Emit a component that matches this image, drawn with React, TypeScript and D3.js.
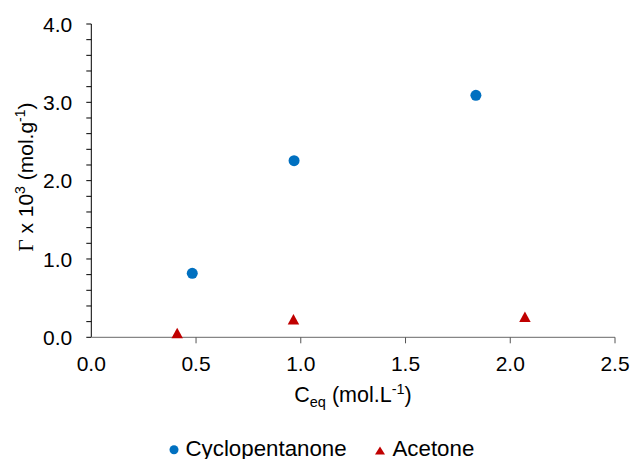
import React, { useEffect, useRef } from "react";
import * as d3 from "d3";

const WIDTH = 633;
const HEIGHT = 459;

// Adsorbed amount vs equilibrium concentration
const cyclopentanoneX = [0.482, 0.968, 1.836];
const cyclopentanoneY = [0.817, 2.255, 3.09];
const acetoneX = [0.41, 0.965, 2.07];
const acetoneY = [0.055, 0.23, 0.263];

const xTicks = [0, 0.5, 1.0, 1.5, 2.0, 2.5];
const yTicks = [0, 1.0, 2.0, 3.0, 4.0];
const yMinorTicks = d3.range(0, 4.0001, 0.2);

const BLUE = "#0070C0";
const RED = "#C00000";
const FONT = "'Liberation Sans', Arial, sans-serif";

// Triangle centred on its bounding box
const trianglePath = (w: number, h: number) =>
  `M0,${-h / 2}L${w / 2},${h / 2}L${-w / 2},${h / 2}Z`;

export default function App() {
  const ref = useRef<SVGSVGElement | null>(null);

  useEffect(() => {
    const svg = d3.select(ref.current);
    svg.selectAll("*").remove();

    const x = d3.scaleLinear().domain([0, 2.5]).range([91.3, 615]);
    const y = d3.scaleLinear().domain([0, 4]).range([337.3, 24]);

    // y axis
    const yAxis = svg.append("g").attr("transform", `translate(${x(0)},0)`);
    yAxis
      .append("line")
      .attr("y1", y(4))
      .attr("y2", y(0))
      .attr("stroke", "#000")
      .attr("stroke-width", 1);
    yAxis
      .selectAll("line.minor")
      .data(yMinorTicks)
      .join("line")
      .attr("class", "minor")
      .attr("x1", -5)
      .attr("x2", 0)
      .attr("y1", (d) => y(d))
      .attr("y2", (d) => y(d))
      .attr("stroke", "#000")
      .attr("stroke-width", 1);
    yAxis
      .selectAll("text")
      .data(yTicks)
      .join("text")
      .attr("x", -19)
      .attr("y", (d) => y(d))
      .attr("dy", "0.36em")
      .attr("text-anchor", "end")
      .attr("font-family", FONT)
      .attr("font-size", 21)
      .attr("fill", "#000")
      .text((d) => d3.format(".1f")(d));

    // x axis
    const xAxis = svg.append("g").attr("transform", `translate(0,${y(0)})`);
    xAxis
      .append("line")
      .attr("x1", x(0))
      .attr("x2", x(2.5))
      .attr("stroke", "#868686")
      .attr("stroke-width", 1.3);
    xAxis
      .selectAll("line.tick")
      .data(xTicks.slice(1))
      .join("line")
      .attr("class", "tick")
      .attr("x1", (d) => x(d))
      .attr("x2", (d) => x(d))
      .attr("y1", 0)
      .attr("y2", 6)
      .attr("stroke", "#555")
      .attr("stroke-width", 1);
    xAxis
      .selectAll("text")
      .data(xTicks)
      .join("text")
      .attr("x", (d) => x(d))
      .attr("y", 34)
      .attr("text-anchor", "middle")
      .attr("font-family", FONT)
      .attr("font-size", 21)
      .attr("fill", "#000")
      .text((d) => d3.format(".1f")(d));

    // x title
    const xt = svg
      .append("text")
      .attr("x", 353)
      .attr("y", 401.5)
      .attr("text-anchor", "middle")
      .attr("font-family", FONT)
      .attr("font-size", 21.5)
      .attr("fill", "#000");
    xt.append("tspan").text("C");
    xt.append("tspan").attr("font-size", 14.5).attr("dy", 5).text("eq");
    xt.append("tspan").attr("dy", -5).text(" (mol.L");
    xt.append("tspan").attr("font-size", 14.5).attr("dy", -8).text("-1");
    xt.append("tspan").attr("dy", 8).text(")");

    // y title
    const yt = svg
      .append("text")
      .attr("transform", `translate(33,177) rotate(-90)`)
      .attr("text-anchor", "middle")
      .attr("font-family", FONT)
      .attr("font-size", 21)
      .attr("fill", "#000");
    yt.append("tspan").attr("font-family", "'Liberation Serif', serif").text("Γ");
    yt.append("tspan").text(" x 10");
    yt.append("tspan").attr("font-size", 14).attr("dy", -8).text("3");
    yt.append("tspan").attr("dy", 8).text(" (mol.g");
    yt.append("tspan").attr("font-size", 14).attr("dy", -8).text("-1");
    yt.append("tspan").attr("dy", 8).text(")");

    const circle = d3.symbol().type(d3.symbolCircle).size(Math.PI * 5.5 * 5.5);

    // Cyclopentanone
    svg
      .append("g")
      .selectAll("path")
      .data(cyclopentanoneX.map((v, i) => [v, cyclopentanoneY[i]]))
      .join("path")
      .attr("d", circle)
      .attr("transform", (d) => `translate(${x(d[0])},${y(d[1])})`)
      .attr("fill", BLUE);

    // Acetone
    svg
      .append("g")
      .selectAll("path")
      .data(acetoneX.map((v, i) => [v, acetoneY[i]]))
      .join("path")
      .attr("d", trianglePath(11.5, 10.5))
      .attr("transform", (d) => `translate(${x(d[0])},${y(d[1])})`)
      .attr("fill", RED);

    // legend
    const lg = svg.append("g");
    lg.append("path")
      .attr("d", d3.symbol().type(d3.symbolCircle).size(Math.PI * 4.5 * 4.5)())
      .attr("transform", "translate(174,449.7)")
      .attr("fill", BLUE);
    lg.append("text")
      .attr("x", 185.5)
      .attr("y", 456)
      .attr("font-family", FONT)
      .attr("font-size", 22.3)
      .attr("fill", "#000")
      .text("Cyclopentanone");
    lg.append("path")
      .attr("d", trianglePath(10, 8))
      .attr("transform", "translate(380,450.5)")
      .attr("fill", RED);
    lg.append("text")
      .attr("x", 392.5)
      .attr("y", 456)
      .attr("font-family", FONT)
      .attr("font-size", 22.3)
      .attr("fill", "#000")
      .text("Acetone");
  }, []);

  return (
    <svg
      ref={ref}
      width={WIDTH}
      height={HEIGHT}
      style={{ position: "absolute", left: 0, top: 0, background: "#fff" }}
    />
  );
}
